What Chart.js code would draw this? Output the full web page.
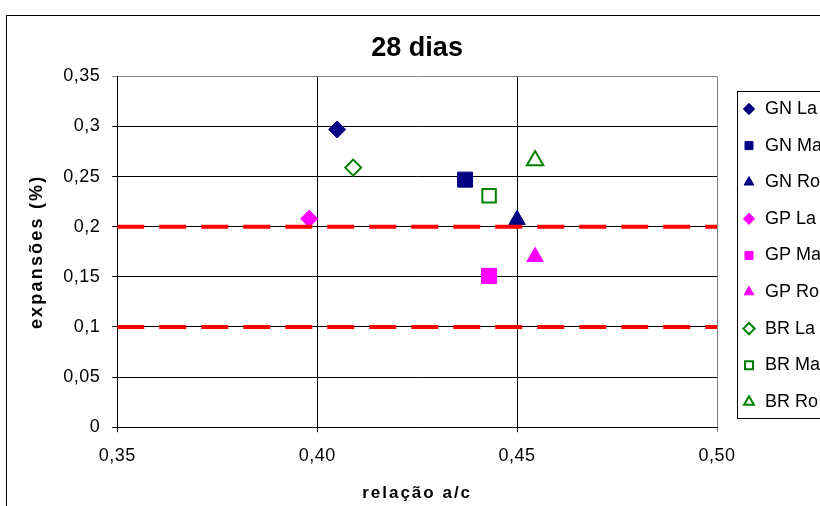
<!DOCTYPE html>
<html>
<head>
<meta charset="utf-8">
<title>28 dias</title>
<script src="https://cdn.jsdelivr.net/npm/chart.js@4/dist/chart.umd.min.js"></script>
<style>
  html, body { margin: 0; padding: 0; background: #fff; overflow: hidden; }
  #chart { display: block; }
</style>
</head>
<body>
<canvas id="chart" width="820" height="506"></canvas>
<script>
// values
const seriesNames = ["GN La", "GN Ma", "GN Ro", "GP La", "GP Ma", "GP Ro", "BR La", "BR Ma", "BR Ro"];
const xValues = [0.405, 0.437, 0.450, 0.398, 0.443, 0.4545, 0.409, 0.443, 0.4545];
const yValues = [0.297, 0.247, 0.207, 0.208, 0.151, 0.170, 0.259, 0.231, 0.266];
const limitLines = [0.1, 0.2];
const xTicks = [0.35, 0.40, 0.45, 0.50];
const xTickLabels = ["0,35", "0,40", "0,45", "0,50"];
const yTicks = [0, 0.05, 0.1, 0.15, 0.2, 0.25, 0.3, 0.35];
const yTickLabels = ["0", "0,05", "0,1", "0,15", "0,2", "0,25", "0,3", "0,35"];

const navy = "#000080";
const pink = "#FF00FF";
const green = "#008000";
const font = "'Liberation Sans', Arial, sans-serif";

// marker look for each series
const markers = [
  { color: navy, shape: "rectRot", r: 8.5, hollow: false },
  { color: navy, shape: "rect", r: 10.6, hollow: false },
  { color: navy, shape: "triangle", r: 9.5, hollow: false },
  { color: pink, shape: "rectRot", r: 8.5, hollow: false },
  { color: pink, shape: "rect", r: 10.6, hollow: false },
  { color: pink, shape: "triangle", r: 9.5, hollow: false },
  { color: green, shape: "rectRot", r: 8, hollow: true },
  { color: green, shape: "rect", r: 9.5, hollow: true },
  { color: green, shape: "triangle", r: 9.5, hollow: true },
];

const datasets = seriesNames.map((name, i) => {
  const m = markers[i];
  const fill = m.hollow ? "#FFFFFF" : m.color;
  return {
    label: name,
    data: [{ x: xValues[i], y: yValues[i] }],
    pointStyle: m.shape,
    pointRadius: m.r,
    pointHoverRadius: m.r,
    pointBackgroundColor: fill,
    pointBorderColor: m.color,
    pointBorderWidth: m.hollow ? 2 : 1,
    backgroundColor: fill,
    borderColor: m.color,
    borderWidth: m.hollow ? 2 : 1,
  };
});

// red dashed limits, drawn over the markers
limitLines.forEach((v) => {
  datasets.push({
    label: "limite " + v,
    data: [
      { x: xTicks[0], y: v },
      { x: xTicks[xTicks.length - 1], y: v },
    ],
    showLine: true,
    borderColor: "#FF0000",
    borderWidth: 4,
    borderDash: [27, 15],
    pointRadius: 0,
    order: -1,
  });
});

const legendPos = { shift: 6.4, top: 81.4 };

// excel text is drawn a bit wider, so widen some labels
function spaced(obj, name, px) {
  if (!obj || obj["_spaced_" + name]) return;
  const orig = obj[name];
  obj[name] = function (...args) {
    const ctx = this.ctx;
    const prev = ctx.letterSpacing;
    ctx.letterSpacing = px;
    const res = orig.apply(this, args);
    ctx.letterSpacing = prev;
    return res;
  };
  obj["_spaced_" + name] = true;
}

const chartFrame = {
  id: "chartFrame",
  afterLayout(chart) {
    chart.legend.left = chart.chartArea.right + legendPos.shift;
    chart.legend.top = legendPos.top;
  },
  beforeDraw(chart) {
    spaced(chart.scales.x, "drawLabels", "0.5px");
    spaced(chart.scales.x, "drawTitle", "2px");
    spaced(chart.scales.y, "drawLabels", "0.5px");
    spaced(chart.scales.y, "drawTitle", "2.2px");

    const ctx = chart.ctx;
    ctx.save();
    ctx.fillStyle = "#FFFFFF";
    ctx.fillRect(0, 0, chart.width, chart.height);
    ctx.strokeStyle = "#000000";
    ctx.lineWidth = 1;
    ctx.strokeRect(6.5, 15.5, chart.width + 20, chart.height + 20);
    ctx.restore();
  },
  afterDraw(chart) {
    const boxes = chart.legend.legendHitBoxes;
    if (!boxes || !boxes.length) return;
    const first = boxes[0];
    const last = boxes[boxes.length - 1];
    const top = Math.round(first.top + first.height / 2 - 18) + 0.5;
    const bottom = Math.round(last.top + last.height / 2 + 16) + 0.5;
    const left = Math.round(chart.chartArea.right + 20) + 0.5;
    const ctx = chart.ctx;
    ctx.save();
    ctx.strokeStyle = "#000000";
    ctx.lineWidth = 1;
    ctx.strokeRect(left, top, chart.width, bottom - top);
    ctx.restore();
  },
};

function edgeColor(values) {
  return (c) => (c.tick && c.tick.value === values[values.length - 1] ? "#808080" : "#000000");
}

new Chart(document.getElementById("chart"), {
  type: "scatter",
  data: { datasets: datasets },
  options: {
    responsive: false,
    animation: false,
    layout: { padding: { left: 10, right: 0, top: 0, bottom: 0 } },
    scales: {
      x: {
        type: "linear",
        min: xTicks[0],
        max: xTicks[xTicks.length - 1],
        afterBuildTicks: (scale) => {
          scale.ticks = xTicks.map((v) => ({ value: v }));
        },
        ticks: {
          callback: (v, i) => xTickLabels[i],
          font: { family: font, size: 18 },
          color: "#000000",
          padding: 13.2,
          maxRotation: 0,
        },
        grid: { color: edgeColor(xTicks), tickLength: 5, lineWidth: 1 },
        border: { color: "#000000", width: 1 },
        title: {
          display: true,
          text: "relação a/c",
          font: { family: font, size: 17, weight: "bold" },
          color: "#000000",
          padding: { top: 2.6, bottom: 2.8 },
        },
      },
      y: {
        type: "linear",
        min: yTicks[0],
        max: yTicks[yTicks.length - 1],
        afterBuildTicks: (scale) => {
          scale.ticks = yTicks.map((v) => ({ value: v }));
        },
        ticks: {
          callback: (v, i) => yTickLabels[i],
          font: { family: font, size: 18 },
          color: "#000000",
          padding: 12,
        },
        grid: { color: edgeColor(yTicks), tickLength: 5, lineWidth: 1 },
        border: { color: "#000000", width: 1 },
        title: {
          display: true,
          text: "expansões (%)",
          font: { family: font, size: 18, weight: "bold" },
          color: "#000000",
          padding: { top: 16.2, bottom: 5.4 },
        },
      },
    },
    plugins: {
      title: {
        display: true,
        fullSize: false,
        text: "28 dias",
        font: { family: font, size: 27, weight: "bold" },
        color: "#000000",
        padding: { top: 32, bottom: 12 },
      },
      legend: {
        position: "right",
        align: "start",
        maxWidth: 103,
        labels: {
          usePointStyle: true,
          boxWidth: 14,
          boxHeight: 8,
          padding: 18.6,
          color: "#000000",
          font: { family: font, size: 18 },
          filter: (item) => item.datasetIndex < seriesNames.length,
        },
      },
      tooltip: { enabled: false },
    },
  },
  plugins: [chartFrame],
});
</script>
</body>
</html>
